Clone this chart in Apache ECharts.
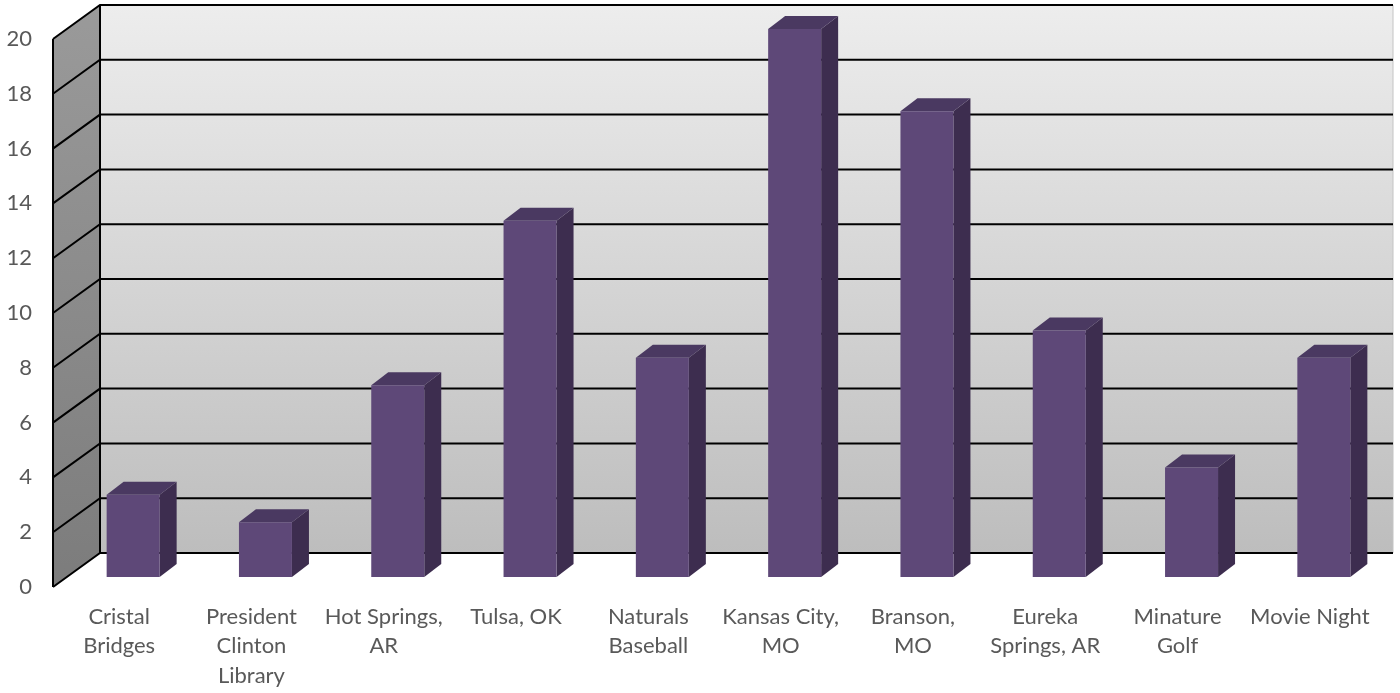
<!DOCTYPE html>
<html>
<head>
<meta charset="utf-8">
<script src="https://cdn.jsdelivr.net/npm/echarts@6/dist/echarts.min.js"></script>
<style>
html,body{margin:0;padding:0;background:#fff;}
#chart{width:1400px;height:693px;}
</style>
</head>
<body>
<div id="chart"></div>
<script>
// ---- data ----
var categories = ['Cristal Bridges', 'President Clinton Library', 'Hot Springs, AR', 'Tulsa, OK', 'Naturals Baseball', 'Kansas City, MO', 'Branson, MO', 'Eureka Springs, AR', 'Minature Golf', 'Movie Night'];
var categoryLabels = ['Cristal\nBridges', 'President\nClinton\nLibrary', 'Hot Springs,\nAR', 'Tulsa, OK', 'Naturals\nBaseball', 'Kansas City,\nMO', 'Branson,\nMO', 'Eureka\nSprings, AR', 'Minature\nGolf', 'Movie Night'];
var values = [3, 2, 7, 13, 8, 20, 17, 9, 4, 8];
var yTicks = [0, 2, 4, 6, 8, 10, 12, 14, 16, 18, 20];

// ---- 3D look (style only) ----
var WALL_DX = 47, WALL_DY = -34;     // depth of the walls
var BAR_OFF_X = 14, BAR_OFF_Y = -10; // bar front face offset from front plane
var BAR_DX = 17, BAR_DY = -13;       // bar depth
var BAR_W = 53;

var chart = echarts.init(document.getElementById('chart'), null, {renderer: 'canvas'});

function wallsRender(params, api) {
  var cs = params.coordSys;
  var left = cs.x, right = cs.x + cs.width;
  var bx0 = left + WALL_DX;
  var bx1 = right + 17;
  var y0 = api.coord([0, yTicks[0]])[1];
  var yTop = api.coord([0, yTicks[yTicks.length - 1]])[1];
  var children = [];
  // back wall
  children.push({
    type: 'rect',
    shape: {x: bx0, y: yTop + WALL_DY, width: bx1 - bx0, height: y0 - yTop},
    style: {
      fill: new echarts.graphic.LinearGradient(0, 0, 0, 1, [
        {offset: 0, color: '#ededed'}, {offset: 1, color: '#bdbdbd'}
      ]),
      stroke: '#c4c4c4', lineWidth: 1
    }
  });
  // side wall
  children.push({
    type: 'polygon',
    shape: {points: [[left, yTop], [bx0, yTop + WALL_DY], [bx0, y0 + WALL_DY], [left, y0]]},
    style: {
      fill: new echarts.graphic.LinearGradient(0, 0, 0, 1, [
        {offset: 0, color: '#9a9a9a'}, {offset: 1, color: '#7c7c7c'}
      ])
    }
  });
  // gridlines
  for (var i = 0; i < yTicks.length; i++) {
    var y = api.coord([0, yTicks[i]])[1];
    children.push({
      type: 'polyline',
      shape: {points: [[left, y], [bx0, y + WALL_DY], [bx1, y + WALL_DY]]},
      style: {stroke: '#000', lineWidth: 2, fill: null}
    });
  }
  // wall edges
  children.push({type: 'line', shape: {x1: left, y1: yTop, x2: left, y2: y0}, style: {stroke: '#000', lineWidth: 2}});
  children.push({type: 'line', shape: {x1: bx0, y1: yTop + WALL_DY, x2: bx0, y2: y0 + WALL_DY}, style: {stroke: '#000', lineWidth: 2}});
  return {type: 'group', children: children};
}

function barRender(params, api) {
  var idx = api.value(0);
  var val = api.value(1);
  var base = api.coord([idx, 0]);
  var top = api.coord([idx, val]);
  var cx = base[0] + BAR_OFF_X;
  var xl = cx - BAR_W / 2, xr = cx + BAR_W / 2;
  var yb = base[1] + BAR_OFF_Y, yt = top[1] + BAR_OFF_Y;
  return {
    type: 'group',
    children: [
      {type: 'polygon', shape: {points: [[xr, yt], [xr + BAR_DX, yt + BAR_DY], [xr + BAR_DX, yb + BAR_DY], [xr, yb]]},
        style: {fill: '#3d2d4f'}},
      {type: 'polygon', shape: {points: [[xl, yt], [xl + BAR_DX, yt + BAR_DY], [xr + BAR_DX, yt + BAR_DY], [xr, yt]]},
        style: {fill: '#4a3961'}},
      {type: 'rect', shape: {x: xl, y: yt, width: BAR_W, height: yb - yt},
        style: {fill: '#5e4878'}}
    ]
  };
}

var labelFont = 'Lato, "Open Sans", sans-serif';

chart.setOption({
  animation: false,
  backgroundColor: '#fff',
  grid: {left: 53, right: 24, top: 39, bottom: 106, containLabel: false},
  xAxis: {
    type: 'category',
    data: categories,
    axisLine: {show: false},
    axisTick: {show: false},
    splitLine: {show: false},
    axisLabel: {
      interval: 0,
      margin: 15,
      color: '#595959',
      fontSize: 22,
      lineHeight: 29.5,
      fontFamily: labelFont,
      formatter: function (v, i) { return categoryLabels[i]; }
    }
  },
  yAxis: {
    type: 'value',
    min: 0, max: 20, interval: 2,
    axisLine: {show: false},
    axisTick: {show: false},
    splitLine: {show: false},
    axisLabel: {margin: 21, color: '#595959', fontSize: 22, fontFamily: labelFont}
  },
  series: [
    {
      type: 'custom',
      renderItem: wallsRender,
      data: [[0, 0]],
      clip: false,
      silent: true,
      z: 1
    },
    {
      type: 'custom',
      renderItem: barRender,
      data: values.map(function (v, i) { return [i, v]; }),
      clip: false,
      z: 2
    }
  ]
});
</script>
</body>
</html>
